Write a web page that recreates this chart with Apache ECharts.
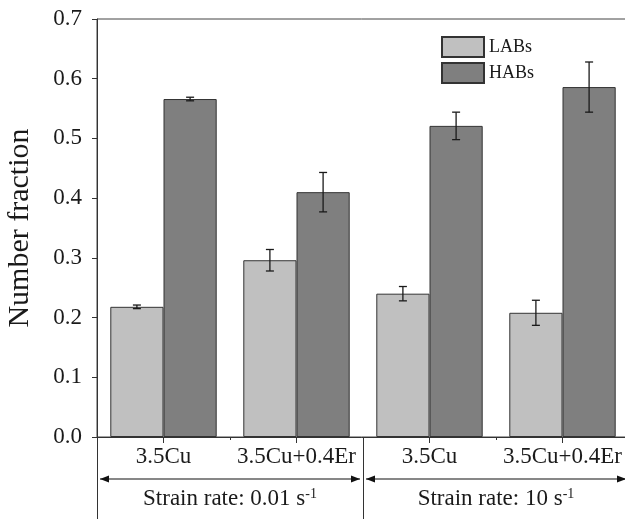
<!DOCTYPE html>
<html>
<head>
<meta charset="utf-8">
<script src="https://cdn.jsdelivr.net/npm/echarts@6/dist/echarts.min.js"></script>
<style>
html,body{margin:0;padding:0;background:#fff;}
#chart{width:625px;height:519px;}
</style>
</head>
<body>
<div id="chart"></div>
<script>
const categories = ['3.5Cu', '3.5Cu+0.4Er', '3.5Cu', '3.5Cu+0.4Er'];
const groups = ['Strain rate: 0.01 s{sup|-1}', 'Strain rate: 10 s{sup|-1}'];
const seriesNames = ['LABs', 'HABs'];
const labValues = [0.218, 0.296, 0.240, 0.208];
const labErrors = [0.003, 0.018, 0.012, 0.021];
const habValues = [0.566, 0.410, 0.521, 0.586];
const habErrors = [0.003, 0.033, 0.023, 0.042];
const yTicks = [0, 0.1, 0.2, 0.3, 0.4, 0.5, 0.6, 0.7];

const FONT = '"Liberation Serif", "Times New Roman", serif';
const TXT = '#1a1a1a';
const LINE = '#333';

const chart = echarts.init(document.getElementById('chart'), null, {renderer: 'canvas'});

function errData(vals, errs, side) {
  return vals.map((v, i) => [i, v, errs[i], side]);
}

function renderErr(params, api) {
  const idx = api.value(0), v = api.value(1), e = api.value(2), side = api.value(3);
  const band = api.size([1, 0])[0];
  const c = api.coord([idx, v]);
  const x = c[0] + side * band * 0.2;
  const top = api.coord([idx, v + e])[1];
  const bot = api.coord([idx, v - e])[1];
  const hw = 4;
  const st = {stroke: '#1a1a1a', lineWidth: 1.3};
  return {
    type: 'group',
    children: [
      {type: 'line', shape: {x1: x, y1: top, x2: x, y2: bot}, style: st},
      {type: 'line', shape: {x1: x - hw, y1: top, x2: x + hw, y2: top}, style: st},
      {type: 'line', shape: {x1: x - hw, y1: bot, x2: x + hw, y2: bot}, style: st}
    ]
  };
}

const option = {
  animation: false,
  backgroundColor: '#fff',
  grid: {left: 97, right: -4, top: 19, bottom: 82, show: true, borderColor: '#444', borderWidth: 1,
         containLabel: false, outerBoundsMode: 'none'},
  legend: {
    data: seriesNames,
    orient: 'vertical',
    left: 436, top: 31,
    icon: 'rect',
    itemWidth: 42, itemHeight: 20, itemGap: 4,
    textStyle: {fontFamily: FONT, fontSize: 18, color: TXT}
  },
  xAxis: [
    {
      type: 'category', data: categories, position: 'bottom',
      axisLine: {show: true, lineStyle: {color: LINE, width: 1}},
      axisTick: {show: true, alignWithLabel: true, length: 6, lineStyle: {color: LINE}},
      axisLabel: {fontFamily: FONT, fontSize: 23, color: TXT, margin: 8, interval: 0}
    },
    {
      type: 'category', data: categories, position: 'bottom',
      axisLine: {show: false},
      axisTick: {show: true, length: 82, interval: (i) => i === 0 || i === 2, lineStyle: {color: LINE}},
      axisLabel: {show: false}
    },
    {
      type: 'category', data: categories, position: 'bottom',
      axisLine: {show: false},
      axisTick: {show: true, length: 3, interval: (i) => i === 1 || i === 3, lineStyle: {color: LINE}},
      axisLabel: {show: false}
    },
    {
      type: 'category', data: groups, position: 'bottom',
      axisLine: {show: false}, axisTick: {show: false},
      axisLabel: {
        fontFamily: FONT, fontSize: 23, color: TXT, margin: 50, interval: 0,
        rich: {sup: {fontFamily: FONT, fontSize: 14, color: TXT, verticalAlign: 'top', padding: [0, 0, 10, 0]}}
      }
    }
  ],
  yAxis: {
    type: 'value', min: 0, max: 0.7, interval: 0.1,
    name: 'Number fraction', nameLocation: 'middle', nameGap: 62,
    nameTextStyle: {fontFamily: FONT, fontSize: 30, color: TXT},
    axisLine: {show: true, lineStyle: {color: LINE, width: 1}},
    axisTick: {show: true, length: 5, lineStyle: {color: LINE}},
    axisLabel: {fontFamily: FONT, fontSize: 23, color: TXT, margin: 15,
      formatter: (v) => yTicks.indexOf(Math.round(v * 10) / 10) >= 0 ? v.toFixed(1) : ''},
    splitLine: {show: false}
  },
  series: [
    {
      name: seriesNames[0], type: 'bar', data: labValues, xAxisIndex: 0,
      barGap: '0%', barCategoryGap: '20%',
      itemStyle: {color: '#c0c0c0', borderColor: '#333', borderWidth: 1}
    },
    {
      name: seriesNames[1], type: 'bar', data: habValues, xAxisIndex: 0,
      barGap: '0%', barCategoryGap: '20%',
      itemStyle: {color: '#7f7f7f', borderColor: '#333', borderWidth: 1}
    },
    {
      type: 'custom', xAxisIndex: 0, z: 10, renderItem: renderErr,
      data: errData(labValues, labErrors, -1), silent: true
    },
    {
      type: 'custom', xAxisIndex: 0, z: 10, renderItem: renderErr,
      data: errData(habValues, habErrors, 1), silent: true
    }
  ]
};

chart.setOption(option);

// group arrows below the axis, positioned from the axes' own scales
function drawArrows() {
  const y0 = chart.convertToPixel({yAxisIndex: 0}, 0);
  const ay = y0 + 42;
  const band = chart.convertToPixel({xAxisIndex: 0}, 1) - chart.convertToPixel({xAxisIndex: 0}, 0);
  const c0 = chart.convertToPixel({xAxisIndex: 0}, 0);
  const els = [];
  const spans = [[c0 - band / 2, c0 + band * 1.5], [c0 + band * 1.5, c0 + band * 3.5]];
  spans.forEach(([a, b]) => {
    const l = a + 3, r = b - 3;
    els.push({type: 'line', shape: {x1: l, y1: ay, x2: r, y2: ay}, style: {stroke: '#111', lineWidth: 1.2}, silent: true});
    els.push({type: 'polygon', shape: {points: [[l, ay], [l + 9, ay - 3.5], [l + 9, ay + 3.5]]}, style: {fill: '#111'}, silent: true});
    els.push({type: 'polygon', shape: {points: [[r, ay], [r - 9, ay - 3.5], [r - 9, ay + 3.5]]}, style: {fill: '#111'}, silent: true});
  });
  chart.setOption({graphic: els});
}
drawArrows();
</script>
</body>
</html>
